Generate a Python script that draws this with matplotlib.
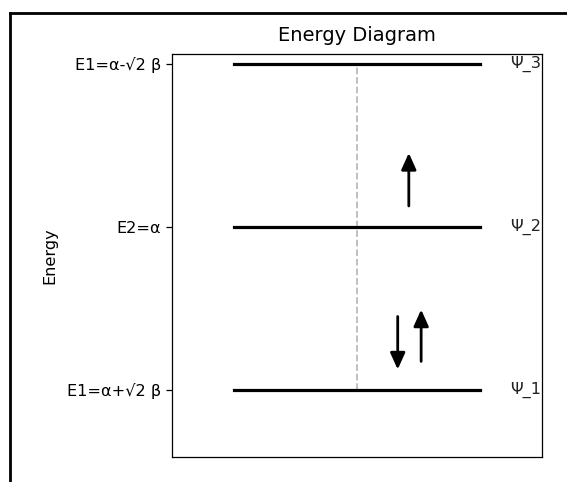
import numpy as np
import matplotlib
matplotlib.use("Agg")
import matplotlib.pyplot as plt
from matplotlib.lines import Line2D

# ─── Data ─────────────────────────────────────────────────────────────
alpha = 0.0
beta = -1.0
energies = [alpha + np.sqrt(2) * beta, alpha, alpha - np.sqrt(2) * beta]
tick_labels = ["E1=α+√2 β", "E2=α", "E1=α-√2 β"]
orbital_labels = ["Ψ_1", "Ψ_2", "Ψ_3"]

# electrons: (x, y_start, y_end)
electrons = [
    (1.83, -0.78, -1.24),
    (2.02, -1.17, -0.72),
    (1.92, 0.18, 0.64),
]

FS = 11.6

# ─── Plot ─────────────────────────────────────────────────────────────
fig = plt.figure(figsize=(5.67, 4.82), dpi=100)
ax = fig.add_axes([0.3034, 0.0519, 0.6525, 0.8361])

for e in energies:
    ax.plot([0.5, 2.5], [e, e], color="black", lw=2.3)

ax.plot([1.5, 1.5], [energies[0], energies[-1]], color="#bbbbbb", ls="--", lw=1.3, zorder=0)

for x, y0, y1 in electrons:
    ax.annotate("", xy=(x, y1), xytext=(x, y0),
                arrowprops=dict(arrowstyle="-|>,head_length=1.0,head_width=0.45",
                                color="black", lw=2, shrinkA=0, shrinkB=0))

for e, lab in zip(energies, orbital_labels):
    ax.text(2.74, e, lab, ha="left", va="center", fontsize=FS, color="#222222")

ax.set_xlim(0, 3)
ax.set_ylim(-2, 1.5)
ax.set_xticks([])
ax.set_yticks(energies)
ax.set_yticklabels(tick_labels, fontsize=FS)
ax.tick_params(axis="y", length=4, width=0.9, pad=4)
for s in ax.spines.values():
    s.set_linewidth(0.9)
ax.set_ylabel("Energy", fontsize=FS)
ax.yaxis.set_label_coords(-0.31, 0.5)
ax.set_title("Energy Diagram", fontsize=14, pad=9)

# screenshot frame (left and top edges)
W, H = 567, 482
fig.add_artist(Line2D([10 / W, 10 / W], [0, 1 - 13 / H], transform=fig.transFigure,
                      color="black", lw=2))
fig.add_artist(Line2D([10 / W, 1], [1 - 13 / H, 1 - 13 / H], transform=fig.transFigure,
                      color="black", lw=2))

fig.savefig("out.png", dpi=100)
